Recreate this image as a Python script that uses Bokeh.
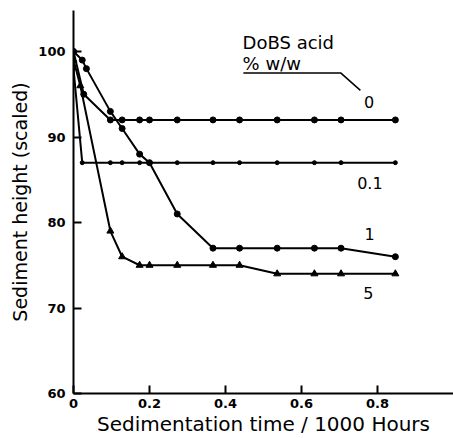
from bokeh.plotting import figure
from bokeh.models import FixedTicker, Range1d
from bokeh.core.properties import value
from bokeh.embed import file_html
from bokeh.resources import INLINE

FONT = "DejaVu Sans"

# Data (time in 1000 hours, sediment height scaled)
x_0 = [0, 0.027, 0.097, 0.128, 0.174, 0.2, 0.273, 0.367, 0.437, 0.536, 0.634, 0.704, 0.847]
y_0 = [100, 95, 92, 92, 92, 92, 92, 92, 92, 92, 92, 92, 92]

x_01 = [0, 0.023, 0.097, 0.128, 0.174, 0.2, 0.273, 0.367, 0.437, 0.536, 0.634, 0.704, 0.847]
y_01 = [98, 87, 87, 87, 87, 87, 87, 87, 87, 87, 87, 87, 87]

x_1 = [0, 0.023, 0.034, 0.097, 0.128, 0.174, 0.2, 0.273, 0.367, 0.437, 0.536, 0.634, 0.704, 0.847]
y_1 = [100, 99, 98, 93, 91, 88, 87, 81, 77, 77, 77, 77, 77, 76]

x_5 = [0, 0.018, 0.097, 0.128, 0.174, 0.2, 0.273, 0.367, 0.437, 0.536, 0.634, 0.704, 0.847]
y_5 = [99, 96, 79, 76, 75, 75, 75, 75, 75, 74, 74, 74, 74]

series_labels = ["0", "0.1", "1", "5"]
label_x = [0.778, 0.78, 0.779, 0.776]
label_y = [94.1, 84.6, 78.7, 71.7]

legend_title = ["DoBS acid", "% w/w"]
legend_title_x = [0.445, 0.445]
legend_title_y = [101.1, 98.6]
leader_x = [0.447, 0.703, 0.755]
leader_y = [97.5, 97.5, 95.45]

x_ticks = [0, 0.2, 0.4, 0.6, 0.8]
y_ticks = [60, 70, 80, 90, 100]

p = figure(frame_width=380, frame_height=383, output_backend="svg", toolbar_location=None,
           x_range=Range1d(0, 1.0), y_range=Range1d(60, 104.8),
           min_border_left=73, min_border_right=0, min_border_top=10, min_border_bottom=45)
p.outline_line_color = None
p.grid.visible = False
p.background_fill_color = "white"

for ax in (p.xaxis[0], p.yaxis[0]):
    ax.axis_line_width = 2
    ax.axis_line_color = "black"
    ax.major_tick_in = 8
    ax.major_tick_out = 0
    ax.major_tick_line_width = 2
    ax.minor_tick_line_color = None
    ax.major_label_text_font = FONT
    ax.major_label_text_font_size = "13px"
    ax.major_label_text_font_style = "bold"
    ax.major_label_text_color = "black"
    ax.axis_label_text_font = FONT
    ax.axis_label_text_font_style = "normal"
    ax.axis_label_text_color = "black"

p.xaxis.axis_label_text_font_size = "20px"
p.yaxis.axis_label_text_font_size = "19px"
p.xaxis.ticker = FixedTicker(ticks=x_ticks)
p.yaxis.ticker = FixedTicker(ticks=y_ticks)
p.xaxis.major_label_overrides = {0: "0"}
p.xaxis.axis_label = "Sedimentation time / 1000 Hours"
p.yaxis.axis_label = "Sediment height (scaled)"
p.xaxis.major_label_standoff = 5
p.xaxis.axis_label_standoff = 1
p.yaxis.major_label_standoff = 8
p.yaxis.axis_label_standoff = 4

lw = 2
p.line(x_0, y_0, line_width=lw, color="black")
p.scatter(x_0, y_0, marker="circle", size=6, color="black")

p.line(x_01, y_01, line_width=lw, color="black")
p.scatter(x_01, y_01, marker="circle", size=4, color="black")

p.line(x_1, y_1, line_width=lw, color="black")
p.scatter(x_1, y_1, marker="circle", size=6, color="black")

p.line(x_5, y_5, line_width=lw, color="black")
p.scatter(x_5, y_5, marker="triangle", size=7, color="black")

p.text(label_x, label_y, text=series_labels, text_font=value(FONT), text_font_size="16px",
       text_align="center", text_baseline="middle", text_color="black")
p.text(legend_title_x, legend_title_y, text=legend_title, text_font=value(FONT),
       text_font_size="18px", text_align="left", text_baseline="middle", text_color="black")
p.line(leader_x, leader_y, line_width=1.5, color="black")

open("out.html", "w").write(file_html(p, INLINE))
